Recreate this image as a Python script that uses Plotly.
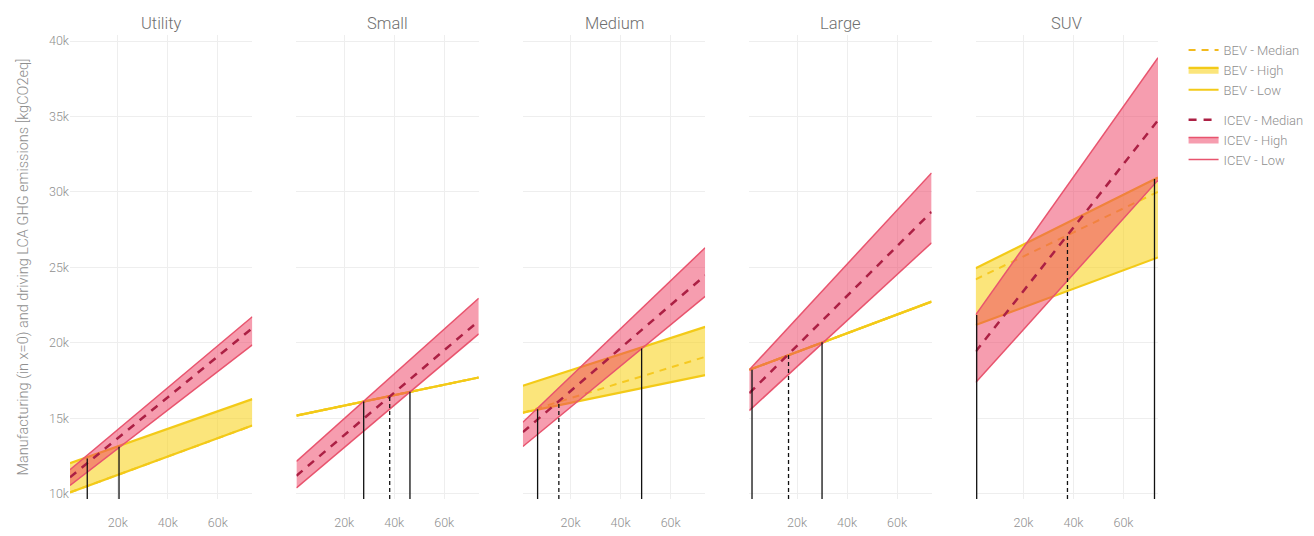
import plotly.graph_objects as go
from plotly.subplots import make_subplots

# Vehicle segments (one panel each)
CATEGORIES = ["Utility", "Small", "Medium", "Large", "SUV"]

# Distance driven [km] at the two ends of each straight line
DIST_KM = [900, 73800]

# Emissions [kgCO2eq] at the two distance ends, per segment
BEV_LOW = [(10090, 14520), (15180, 17700), (15370, 17860), (18210, 22730), (21180, 25660)]
BEV_MEDIAN = [(10090, 14520), (15180, 17700), (15360, 19070), (18210, 22730), (24210, 30010)]
BEV_HIGH = [(12030, 16270), (15180, 17700), (17160, 21060), (18210, 22730), (24940, 30960)]

ICEV_LOW = [(10550, 19860), (10380, 20590), (13130, 23080), (15510, 26630), (17370, 30780)]
ICEV_MEDIAN = [(11090, 20970), (11190, 21450), (14080, 24470), (16660, 28680), (19420, 34750)]
ICEV_HIGH = [(11590, 21730), (12140, 22950), (14740, 26300), (18210, 31260), (21850, 38900)]

# Break-even distances [km], emission level where they meet, and line kind
BREAKEVEN_KM = [[7800, 20500], [27800, 38200, 46300], [6800, 15300, 48400],
                [2000, 16600, 30000], [1300, 37600, 72400]]
BREAKEVEN_CO2 = [[12330, 13120], [16110, 16480, 16760], [15600, 16130, 19630],
                 [18210, 19240, 20030], [21850, 27150, 30850]]
BREAKEVEN_KIND = [["solid", "solid"], ["solid", "dash", "solid"], ["solid", "dash", "solid"],
                  ["solid", "dash", "solid"], ["solid", "dash", "solid"]]

X_TICKS = [20000, 40000, 60000]
X_TICK_TEXT = ["20k", "40k", "60k"]
Y_TICKS = [10000, 15000, 20000, 25000, 30000, 35000, 40000]
Y_TICK_TEXT = ["10k", "15k", "20k", "25k", "30k", "35k", "40k"]

Y_RANGE = [9650, 40400]
X_RANGE = [900, 73800]

BEV_LINE = "rgb(243,202,24)"
BEV_FILL = "rgba(249,212,35,0.6)"
BEV_MED = "rgb(242,186,30)"
ICEV_LINE = "rgb(232,84,110)"
ICEV_FILL = "rgba(238,60,95,0.5)"
ICEV_MED = "rgb(172,32,68)"

FONT = "Roboto, 'Open Sans', sans-serif"
GREY = "#8f8f8f"


def light(size, color=GREY):
    return dict(family=FONT, size=size, color=color, weight=300)


fig = make_subplots(rows=1, cols=5, shared_yaxes=True,
                    horizontal_spacing=0.04054, subplot_titles=CATEGORIES)

for i, cat in enumerate(CATEGORIES):
    col = i + 1
    first = i == 0

    def add(y, name, group, rank, line, fill=None, fillcolor=None):
        fig.add_trace(go.Scatter(
            x=DIST_KM, y=list(y), mode="lines", name=name,
            legendgroup=group, legendrank=rank, showlegend=first,
            line=line, fill=fill, fillcolor=fillcolor, hoverinfo="skip",
        ), row=1, col=col)

    # BEV band
    add(BEV_MEDIAN[i], "BEV - Median", "BEV", 1, dict(color=BEV_MED, width=2, dash="7px,6px"))
    add(BEV_LOW[i], "BEV - Low", "BEV", 3, dict(color=BEV_LINE, width=2.2))
    add(BEV_HIGH[i], "BEV - High", "BEV", 2, dict(color=BEV_LINE, width=2.2),
        fill="tonexty", fillcolor=BEV_FILL)

    # ICEV band
    add(ICEV_LOW[i], "ICEV - Low", "ICEV", 6, dict(color=ICEV_LINE, width=1.5))
    add(ICEV_HIGH[i], "ICEV - High", "ICEV", 5, dict(color=ICEV_LINE, width=1.5),
        fill="tonexty", fillcolor=ICEV_FILL)
    add(ICEV_MEDIAN[i], "ICEV - Median", "ICEV", 4, dict(color=ICEV_MED, width=2.5, dash="8px,7px"))

    # Break-even markers
    for km, co2, kind in zip(BREAKEVEN_KM[i], BREAKEVEN_CO2[i], BREAKEVEN_KIND[i]):
        fig.add_trace(go.Scatter(
            x=[km, km], y=[Y_RANGE[0], co2], mode="lines", showlegend=False,
            line=dict(color="#111111", width=1.3, dash="4px,3px" if kind == "dash" else "solid"),
            hoverinfo="skip",
        ), row=1, col=col)

    fig.update_xaxes(range=X_RANGE, tickvals=X_TICKS, ticktext=X_TICK_TEXT,
                     showgrid=True, gridcolor="#eeeeee", zeroline=False, showline=False,
                     ticks="outside", ticklen=12, tickcolor="rgba(0,0,0,0)",
                     tickfont=light(12.5), automargin=False, row=1, col=col)
    fig.update_yaxes(range=Y_RANGE, tickvals=Y_TICKS, ticktext=Y_TICK_TEXT,
                     showgrid=True, gridcolor="#eeeeee", zeroline=False, showline=False,
                     tickfont=light(12.5), automargin=False, row=1, col=col)

fig.update_yaxes(title=dict(text="Manufacturing (in x=0) and driving LCA GHG emissions [kgCO2eq]",
                            font=light(14.5), standoff=16), row=1, col=1)

for ann in fig.layout.annotations:
    ann.font = light(16.5, "#6f6f6f")

fig.update_layout(
    width=1314, height=536,
    margin=dict(l=70, r=156, t=35, b=37, autoexpand=False),
    plot_bgcolor="white", paper_bgcolor="white",
    font=light(12),
    legend=dict(x=1.0235, y=1.0, xanchor="left", yanchor="top",
                font=light(13), tracegroupgap=10,
                traceorder="grouped"),
    showlegend=True,
)

fig.write_html("out.html")
